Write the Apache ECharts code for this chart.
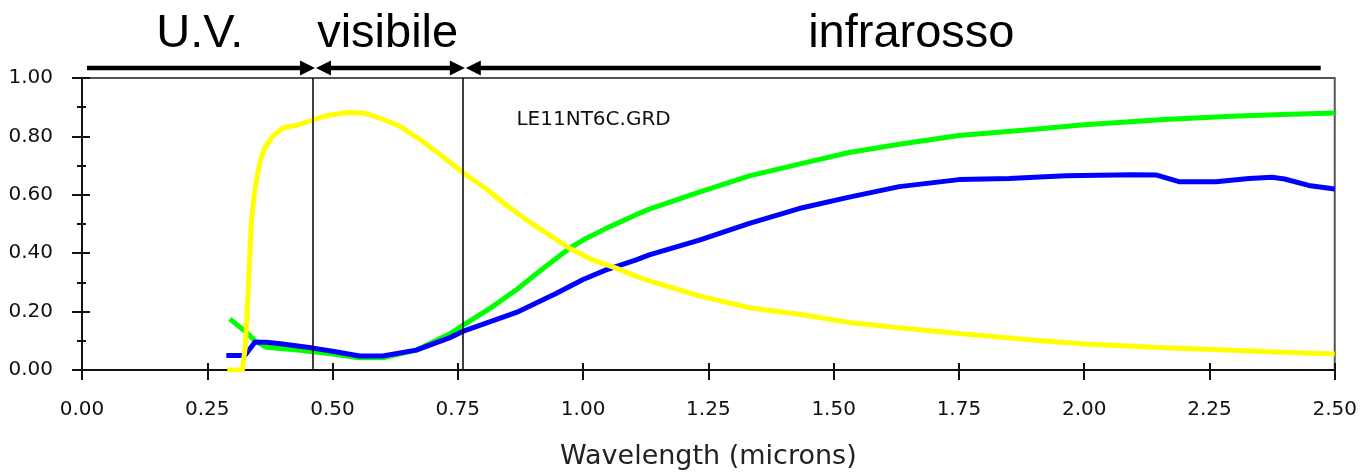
<!DOCTYPE html>
<html>
<head>
<meta charset="utf-8">
<script src="https://cdn.jsdelivr.net/npm/echarts@6/dist/echarts.min.js"></script>
<style>
  html, body { margin: 0; padding: 0; background: #fff; }
  #chart { width: 1360px; height: 475px; }
</style>
</head>
<body>
<div id="chart"></div>
<script>
// Reflectance spectra (wavelength in microns → fraction)
const yellowX = [0.29, 0.32, 0.326, 0.332, 0.338, 0.345, 0.355, 0.365, 0.381, 0.401, 0.435, 0.458, 0.488, 0.528, 0.564, 0.594, 0.634, 0.674, 0.714, 0.764, 0.807, 0.847, 0.893, 0.933, 0.973, 1.019, 1.066, 1.106, 1.132, 1.232, 1.332, 1.431, 1.531, 1.631, 1.75, 1.896, 2.0, 2.16, 2.295, 2.395, 2.50];
const yellowY = [0, 0, 0.08, 0.28, 0.507, 0.62, 0.711, 0.762, 0.801, 0.829, 0.841, 0.855, 0.871, 0.882, 0.880, 0.863, 0.835, 0.79, 0.739, 0.671, 0.62, 0.564, 0.507, 0.462, 0.417, 0.377, 0.349, 0.321, 0.305, 0.254, 0.213, 0.191, 0.163, 0.145, 0.125, 0.103, 0.089, 0.076, 0.068, 0.061, 0.055];

const greenX = [0.295, 0.328, 0.345, 0.368, 0.435, 0.50, 0.554, 0.60, 0.667, 0.733, 0.764, 0.815, 0.867, 0.913, 0.973, 1.0, 1.046, 1.106, 1.132, 1.232, 1.332, 1.431, 1.531, 1.631, 1.75, 1.896, 2.0, 2.16, 2.295, 2.395, 2.50];
const greenY = [0.175, 0.129, 0.10, 0.078, 0.068, 0.055, 0.042, 0.042, 0.068, 0.123, 0.157, 0.212, 0.275, 0.338, 0.417, 0.445, 0.485, 0.532, 0.551, 0.609, 0.665, 0.705, 0.745, 0.773, 0.803, 0.824, 0.84, 0.858, 0.869, 0.875, 0.88];

const blueX = [0.288, 0.325, 0.345, 0.368, 0.40, 0.461, 0.50, 0.554, 0.60, 0.667, 0.733, 0.764, 0.867, 0.946, 1.0, 1.046, 1.106, 1.132, 1.232, 1.332, 1.431, 1.531, 1.631, 1.75, 1.85, 1.963, 2.096, 2.143, 2.189, 2.263, 2.329, 2.375, 2.40, 2.448, 2.50];
const blueY = [0.05, 0.05, 0.095, 0.095, 0.089, 0.075, 0.064, 0.048, 0.048, 0.068, 0.11, 0.135, 0.197, 0.262, 0.31, 0.343, 0.377, 0.394, 0.445, 0.502, 0.553, 0.592, 0.628, 0.652, 0.656, 0.665, 0.669, 0.668, 0.645, 0.645, 0.656, 0.66, 0.654, 0.632, 0.62];

// Spectral band boundaries and band labels
const bandLines = [0.46, 0.764];
const bands = [
  { name: 'U.V.',       from: 0.01,  to: 0.466, center: 0.235, leftArrow: false, rightArrow: true },
  { name: 'visibile',   from: 0.466, to: 0.765, center: 0.61,  leftArrow: true,  rightArrow: true },
  { name: 'infrarosso', from: 0.765, to: 2.472, center: 1.655, leftArrow: true,  rightArrow: false }
];
const fileLabel = { text: 'LE11NT6C.GRD', x: 0.867, y: 0.856 };
const xName = 'Wavelength (microns)';

const zip = (xs, ys) => xs.map((x, i) => [x, ys[i]]);

const chart = echarts.init(document.getElementById('chart'), null, { renderer: 'canvas' });

const tickFont = { fontFamily: 'DejaVu Sans', fontSize: 20, color: '#111' };

const curve = (xs, ys, color, z) => ({
  type: 'line', data: zip(xs, ys), showSymbol: false, symbol: 'none',
  smooth: false,
  lineStyle: { color: color, width: 5, join: 'round', cap: 'butt' }, z: z
});

const option = {
  backgroundColor: '#ffffff',
  animation: false,
  grid: {
    left: 82, right: 24, top: 78, bottom: 102,
    show: true, borderColor: '#555', borderWidth: 2, backgroundColor: 'transparent'
  },
  xAxis: [
    {
      type: 'value', min: 0, max: 2.5, interval: 0.25, position: 'bottom',
      axisLine: { show: true, onZero: false, lineStyle: { color: '#111', width: 2 } },
      axisTick: { show: true, length: 10, lineStyle: { color: '#111', width: 2 } },
      axisLabel: Object.assign({ margin: 30, formatter: v => v.toFixed(2) }, tickFont),
      splitLine: { show: false },
      name: xName, nameLocation: 'middle', nameGap: 73,
      nameTextStyle: { fontFamily: 'DejaVu Sans', fontSize: 27, color: '#222' }
    },
    {
      type: 'value', min: 0, max: 2.5, interval: 0.25, position: 'bottom',
      axisLine: { show: false, onZero: false },
      axisTick: { show: true, inside: true, length: 7, lineStyle: { color: '#111', width: 2 } },
      axisLabel: { show: false },
      splitLine: { show: false }
    }
  ],
  yAxis: [
    {
      type: 'value', min: 0, max: 1, interval: 0.2, position: 'left',
      axisLine: { show: true, onZero: false, lineStyle: { color: '#111', width: 2 } },
      axisTick: { show: true, length: 10, lineStyle: { color: '#111', width: 2 } },
      minorTick: { show: true, splitNumber: 2, length: 5, lineStyle: { color: '#111', width: 2 } },
      axisLabel: Object.assign({ margin: 29, formatter: v => v.toFixed(2) }, tickFont),
      splitLine: { show: false }, minorSplitLine: { show: false }
    },
    {
      type: 'value', min: 0, max: 1, interval: 0.2, position: 'left',
      axisLine: { show: false, onZero: false },
      axisTick: { show: true, inside: true, length: 8, lineStyle: { color: '#111', width: 2 } },
      minorTick: { show: true, splitNumber: 2, length: 4, lineStyle: { color: '#111', width: 2 } },
      axisLabel: { show: false },
      splitLine: { show: false }, minorSplitLine: { show: false }
    }
  ],
  series: [
    curve(greenX, greenY, '#00ff00', 2),
    curve(blueX, blueY, '#0000ff', 3),
    curve(yellowX, yellowY, '#ffff00', 4),
    {
      // band boundary verticals
      type: 'line', data: [], z: 6,
      markLine: {
        silent: true, symbol: 'none', label: { show: false },
        lineStyle: { color: '#000', width: 1.5, type: 'solid' },
        data: bandLines.map(v => ({ xAxis: v }))
      }
    }
  ]
};

chart.setOption(option);

// Annotations placed through the axes' own scale
function drawAnnotations() {
  const toPx = (x, y) => chart.convertToPixel({ xAxisIndex: 0, yAxisIndex: 0 }, [x, y]);
  const top = toPx(0, 1)[1];
  const arrowY = top - 10;
  const textY = top - 44;
  const head = 15, half = 7.5;
  const els = [];
  bands.forEach(b => {
    const x1 = toPx(b.from, 1)[0] + (b.leftArrow ? 0.5 : 0);
    const x2 = toPx(b.to, 1)[0] - (b.rightArrow ? 0.5 : 0);
    els.push({
      type: 'line', silent: true,
      shape: { x1: b.leftArrow ? x1 + head - 1 : x1, y1: arrowY, x2: b.rightArrow ? x2 - head + 1 : x2, y2: arrowY },
      style: { stroke: '#000', lineWidth: 4.5 }
    });
    if (b.leftArrow) {
      els.push({ type: 'polygon', silent: true,
        shape: { points: [[x1, arrowY], [x1 + head, arrowY - half], [x1 + head, arrowY + half]] },
        style: { fill: '#000' } });
    }
    if (b.rightArrow) {
      els.push({ type: 'polygon', silent: true,
        shape: { points: [[x2, arrowY], [x2 - head, arrowY - half], [x2 - head, arrowY + half]] },
        style: { fill: '#000' } });
    }
    els.push({
      type: 'text', silent: true,
      x: toPx(b.center, 1)[0], y: textY,
      style: { text: b.name, fontFamily: 'Liberation Sans', fontSize: 47, fill: '#000',
               align: 'center', verticalAlign: 'middle' }
    });
  });
  const lp = toPx(fileLabel.x, fileLabel.y);
  els.push({
    type: 'text', silent: true, x: lp[0], y: lp[1],
    style: { text: fileLabel.text, fontFamily: 'DejaVu Sans', fontSize: 20, fill: '#111',
             align: 'left', verticalAlign: 'middle' }
  });
  chart.setOption({ graphic: els });
}
drawAnnotations();
</script>
</body>
</html>
